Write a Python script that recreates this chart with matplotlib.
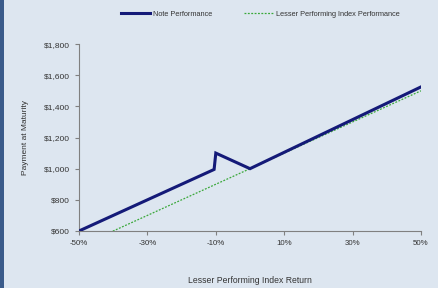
import matplotlib
matplotlib.use("Agg")
import matplotlib.pyplot as plt
from matplotlib.patches import Rectangle

plt.rcParams['font.family'] = ['Liberation Sans', 'DejaVu Sans']

note_x = [-50, -10.5, -10, 0, 50]
note_y = [600, 995, 1100, 1000, 1525]
index_x = [-50, 50]
index_y = [500, 1500]
x_ticks = [-50, -30, -10, 10, 30, 50]
x_labels = ['-50%', '-30%', '-10%', '10%', '30%', '50%']
y_ticks = [600, 800, 1000, 1200, 1400, 1600, 1800]
y_labels = ['$600', '$800', '$1,000', '$1,200', '$1,400', '$1,600', '$1,800']

bg = '#dde6f0'
fig = plt.figure(figsize=(4.39, 2.88), dpi=100, facecolor=bg)
fig.patches.append(Rectangle((0, 0), 4/439, 1, transform=fig.transFigure,
                             facecolor='#3a5b8a', edgecolor='none', zorder=0))
ax = fig.add_axes([0.18, 0.198, 0.779, 0.649], facecolor=bg)

ax.plot(note_x, note_y, color='#141a78', lw=2.2, solid_joinstyle='miter',
        label='Note Performance', zorder=3)
ax.plot(index_x, index_y, color='#3aa83a', lw=0.9, ls=(0, (1.5, 1.2)),
        label='Lesser Performing Index Performance', zorder=2)

ax.set_xlim(-50, 50)
ax.set_ylim(600, 1800)
ax.set_xticks(x_ticks)
ax.set_xticklabels(x_labels)
ax.set_yticks(y_ticks)
ax.set_yticklabels(y_labels)
for s in ['top', 'right']:
    ax.spines[s].set_visible(False)
for s in ['left', 'bottom']:
    ax.spines[s].set_color('#808080')
    ax.spines[s].set_linewidth(0.8)
ax.tick_params(axis='both', colors='#808080', labelcolor='#333333',
               labelsize=6, length=3, width=0.8)
ax.tick_params(axis='x', labelsize=5.7)
ax.set_ylabel('Payment at Maturity', fontsize=6, color='#333333', labelpad=11)
ax.set_xlabel('Lesser Performing Index Return', fontsize=6.2, color='#333333', labelpad=21)

leg = fig.legend(loc='center', bbox_to_anchor=(0.593, 0.951), ncol=2,
                 frameon=False, fontsize=5.3, handlelength=4, columnspacing=4.2,
                 handletextpad=0.4)
for t in leg.get_texts():
    t.set_color('#333333')

fig.savefig('out.png', dpi=100, facecolor=bg)
